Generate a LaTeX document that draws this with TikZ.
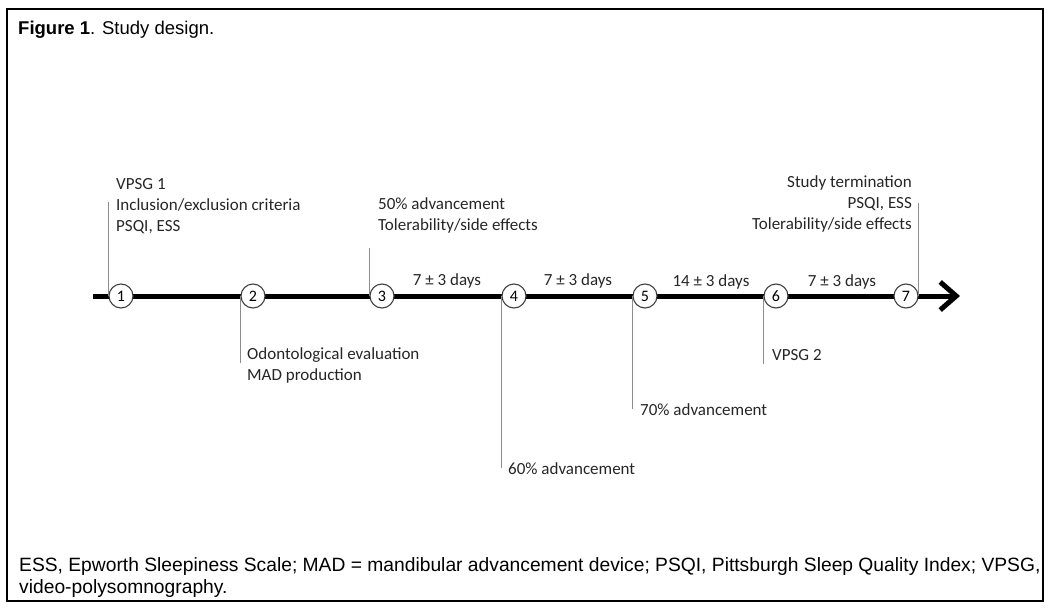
\documentclass[tikz,border=0pt]{standalone}
\usepackage{fontspec}
\usepackage{tikz}
\usetikzlibrary{arrows.meta}
\setmainfont{Carlito}
\newfontfamily\capfont{Liberation Sans}

\begin{document}
\begin{tikzpicture}[x=1pt,y=-1pt,
        stage/.style={circle,draw=black!75,line width=1.1pt,fill=white,minimum size=24pt,inner sep=0pt,font=\fontsize{16}{18}\selectfont},
        memo/.style={inner sep=0pt,align=left,font=\fontsize{17}{21}\selectfont,text=black!85},
        gap/.style={inner sep=0pt,anchor=base,font=\fontsize{17}{19}\selectfont,text=black!85},
        lead/.style={draw=black!45,line width=0.8pt},
        timeline/.style={line width=5pt,-{Straight Barb[length=16pt,width=28pt,line width=5pt]}}]
        \useasboundingbox (0,0) rectangle (1053,608);
        \draw[line width=1.2pt] (7,9) rectangle (1043,601);
        % caption and footnote
        \node[anchor=base west,inner sep=0pt,font=\capfont\fontsize{18.5}{22}\selectfont] (caption) at (18,34) {\textbf{Figure 1}. Study design.};
        \node[anchor=base west,inner sep=0pt,align=left,font=\capfont\fontsize{19.25}{22}\selectfont] (legend) at (19,593)
            {ESS, Epworth Sleepiness Scale; MAD = mandibular advancement device; PSQI, Pittsburgh Sleep Quality Index; VPSG,\\video-polysomnography.};

        % time axis
        \coordinate (start) at (93,296);
        \coordinate (tip) at (960,296);
        \draw[timeline] (start) -- (tip);
        \foreach \i/\x in {1/121,2/253,3/382,4/514,5/645,6/776,7/906}
            \node[stage] (s\i) at (\x,296) {\i};

        % intervals
        \node[gap] (d34) at (447,285) {7 ± 3 days};
        \node[gap] (d45) at (578,285) {7 ± 3 days};
        \node[gap] (d56) at (711,286) {14 ± 3 days};
        \node[gap] (d67) at (842,286) {7 ± 3 days};

        % visit notes
        \node[memo,anchor=base west] (n1) at (116,231) {VPSG 1\\Inclusion/exclusion criteria\\PSQI, ESS};
        \node[memo,anchor=base west] (n2) at (247,380) {Odontological evaluation\\MAD production};
        \node[memo,anchor=base west] (n3) at (378,230) {50\% advancement\\Tolerability/side effects};
        \node[memo,anchor=base west] (n4) at (508,474) {60\% advancement};
        \node[memo,anchor=base west] (n5) at (640,415) {70\% advancement};
        \node[memo,anchor=base west] (n6) at (772,360) {VPSG 2};
        \node[memo,anchor=base east,align=right] (n7) at (912,229) {Study termination\\PSQI, ESS\\Tolerability/side effects};

        \coordinate (e1) at (110,202);
        \coordinate (e2) at (241,363);
        \coordinate (e3) at (370,248);
        \coordinate (e4) at (502,468);
        \coordinate (e5) at (633,409);
        \coordinate (e6) at (765,364);
        \coordinate (e7) at (919,203);
        \draw[lead] (s1.west) -- (s1.west |- e1);
        \draw[lead] (s2.west) -- (s2.west |- e2);
        \draw[lead] (s3.west) -- (s3.west |- e3);
        \draw[lead] (s4.west) -- (s4.west |- e4);
        \draw[lead] (s5.west) -- (s5.west |- e5);
        \draw[lead] (s6.west) -- (s6.west |- e6);
        \draw[lead] (s7.east) -- (s7.east |- e7);
    \end{tikzpicture}
\end{document}
